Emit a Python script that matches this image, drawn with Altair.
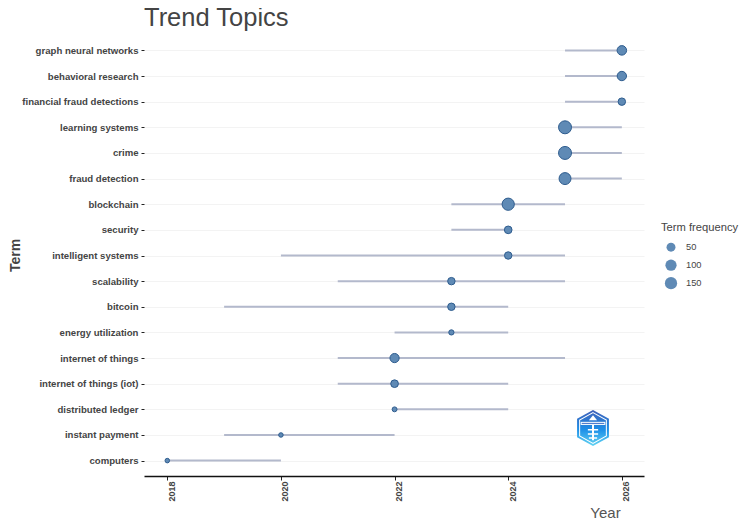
import base64
import altair as alt
import pandas as pd

terms = ["graph neural networks", "behavioral research", "financial fraud detections",
         "learning systems", "crime", "fraud detection", "blockchain", "security",
         "intelligent systems", "scalability", "bitcoin", "energy utilization",
         "internet of things", "internet of things (iot)", "distributed ledger",
         "instant payment", "computers"]
year_start = [2025, 2025, 2025, 2025, 2025, 2025, 2023, 2023, 2020, 2021, 2019, 2022, 2021, 2021, 2022, 2019, 2018]
year_end = [2026, 2026, 2026, 2026, 2026, 2026, 2025, 2024, 2025, 2025, 2024, 2024, 2025, 2024, 2024, 2022, 2020]
year_peak = [2026, 2026, 2026, 2025, 2025, 2025, 2024, 2024, 2024, 2023, 2023, 2023, 2022, 2022, 2022, 2020, 2018]
frequency = [62, 58, 36, 172, 172, 135, 150, 38, 36, 36, 36, 20, 55, 38, 18, 16, 16]

legend_values = [50, 100, 150]
x_ticks = [2018, 2020, 2022, 2024, 2026]

df = pd.DataFrame({"term": terms, "start": year_start, "end": year_end,
                   "peak": year_peak, "freq": frequency})

FONT = "Liberation Sans"
INK = "#444444"

logo_svg = """<svg xmlns='http://www.w3.org/2000/svg' viewBox='0 0 64 72'>
<defs><linearGradient id='g' x1='0' y1='0' x2='0' y2='1'>
<stop offset='0' stop-color='#3f5fb8'/><stop offset='.55' stop-color='#1e90e8'/><stop offset='1' stop-color='#63d4f2'/>
</linearGradient></defs>
<path d='M32 1 L63 18 L63 54 L32 71 L1 54 L1 18 Z' fill='url(#g)'/>
<path d='M32 6 L58 20.5 L58 51.5 L32 66 L6 51.5 L6 20.5 Z' fill='none' stroke='white' stroke-width='2'/>
<path d='M32 11 L40 21 L24 21 Z' fill='white'/>
<rect x='8' y='24' width='48' height='6' fill='white'/>
<rect x='10' y='26' width='44' height='2' fill='#3f6fc8'/>
<path d='M30 30 h4 v30 h-4z M22 38 h20 v3 h-20z M22 46 h20 v3 h-20z M24 54 h16 v3 h-16z' fill='white'/>
</svg>"""
logo_uri = "data:image/svg+xml;base64," + base64.b64encode(logo_svg.encode()).decode()

x_scale = alt.Scale(domain=[2017.59, 2026.39], nice=False, zero=False)
y_scale = alt.Scale(type="point", domain=terms, padding=0.6)

x_axis = alt.Axis(values=x_ticks, format="d", labelAngle=-90, labelFontSize=9, labelFontWeight="bold",
                  labelColor=INK, labelFont=FONT, labelAlign="right", labelBaseline="top", labelPadding=1,
                  tickColor="#222222", tickSize=4, domainColor="#111111", domainWidth=1.3, grid=False,
                  title="Year", titleFont=FONT, titleFontSize=15, titleFontWeight="normal", titleColor="#555555",
                  titleX=461, titleY=41, titleBaseline="alphabetic", titleAlign="center")
y_axis = alt.Axis(labelFontSize=9.6, labelFontWeight="bold", labelColor=INK, labelFont=FONT, labelPadding=3,
                  tickColor="#222222", tickSize=3, domain=False, grid=True, gridColor="#f3f3f3", gridWidth=1,
                  title="Term", titleFont=FONT, titleFontSize=14, titleFontWeight="bold", titleColor=INK,
                  titleX=-129, titleY=220, titleAngle=-90, titleAlign="center", titleBaseline="middle")

base = alt.Chart(df)
rules = base.mark_rule(color="#b3b9cc", strokeWidth=2).encode(
    x=alt.X("start:Q", scale=x_scale, axis=x_axis),
    x2="end:Q",
    y=alt.Y("term:N", scale=y_scale, axis=y_axis, sort=terms),
)
points = base.mark_circle(opacity=1, fill="#5f8ab5", stroke="#2e5c8e", strokeWidth=1).encode(
    x=alt.X("peak:Q", scale=x_scale),
    y=alt.Y("term:N", scale=y_scale, sort=terms),
    size=alt.Size("freq:Q",
                  scale=alt.Scale(domain=[10, 50, 100, 150, 180], range=[10, 80, 125, 150, 175]),
                  legend=alt.Legend(title="Term frequency", values=legend_values, orient="none",
                                    legendX=517, legendY=187, titleFont=FONT, titleFontSize=11.2,
                                    titleFontWeight="normal", titleColor=INK, labelFont=FONT, labelFontSize=9.3,
                                    labelColor=INK, symbolFillColor="#5f8ab5", symbolStrokeColor="#2e5c8e",
                                    symbolStrokeWidth=1, symbolOpacity=1, rowPadding=0, clipHeight=18,
                                    symbolOffset=3, labelOffset=8, titlePadding=5)),
)
logo = alt.Chart(pd.DataFrame({"logo": [logo_uri]})).mark_image(width=33, height=37).encode(
    url="logo:N", x=alt.value(449), y=alt.value(393),
)

chart = alt.layer(rules, points, logo).properties(
    width=500, height=441,
    autosize=alt.AutoSizeParams(type="none"),
    padding={"left": 136, "top": 27, "right": 98, "bottom": 48},
    title=alt.TitleParams("Trend Topics", anchor="start", frame="group", font=FONT, fontSize=25.5,
                          fontWeight="normal", color=INK, offset=4),
).configure_view(stroke=None)

chart.save("out.html", embed_options={"renderer": "svg", "actions": False})
